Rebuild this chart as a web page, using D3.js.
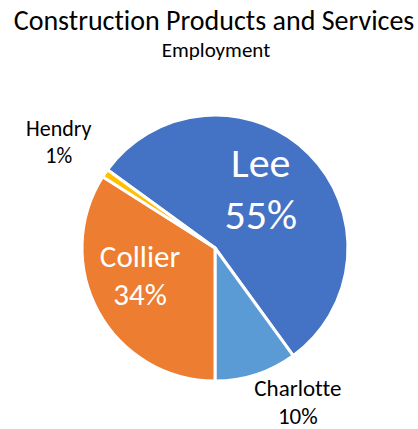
<!DOCTYPE html>
<html>
<head>
<meta charset="utf-8">
<script src="https://cdn.jsdelivr.net/npm/d3@7"></script>
<style>
  body { margin: 0; background: #fff; }
  text { font-family: Carlito, Lato, "Open Sans", sans-serif; font-variant-ligatures: none; }
</style>
</head>
<body>
<svg width="418" height="429"></svg>
<script>
// Data, in the order Excel draws the slices (clockwise)
var counties = ['Lee', 'Charlotte', 'Collier', 'Hendry'];
var shares = [55, 10, 34, 1];
var colors = ['#4472C4', '#5B9BD5', '#ED7D31', '#FFC000'];

var svg = d3.select('svg');

// Pie layout parameters
var cx = 215, cy = 248, radius = 133;

svg.append('text')
    .attr('x', 214)
    .attr('y', 30)
    .style('text-anchor', 'middle')
    .style('font-size', '28px')
    .style('fill', '#000')
    .text('Construction Products and Services');

svg.append('text')
    .attr('x', 216)
    .attr('y', 57)
    .style('text-anchor', 'middle')
    .style('font-size', '21px')
    .style('fill', '#000')
    .text('Employment');

var data = counties.map(function(c, i) {
    return {county: c, share: shares[i], color: colors[i]};
});

// Lee + Charlotte end at 6 o'clock, so the first slice starts this far back
var total = d3.sum(shares);
var startAngle = Math.PI - 2 * Math.PI * (shares[0] + shares[1]) / total;

var pie = d3.pie()
    .sort(null)
    .value(function(d) { return d.share; })
    .startAngle(startAngle)
    .endAngle(startAngle + 2 * Math.PI);

var arc = d3.arc().innerRadius(0).outerRadius(radius);

var pieG = svg.append('g')
    .attr('transform', 'translate(' + [cx, cy] + ')');

var arcs = pie(data);

pieG.selectAll('.slice')
    .data(arcs)
    .enter()
    .append('path')
    .attr('class', 'slice')
    .attr('d', arc)
    .style('fill', function(d) { return d.data.color; })
    .style('stroke', '#fff')
    .style('stroke-width', 3)
    .style('stroke-linejoin', 'round');

// Label placement: distance from centre (fraction of radius), nudge, font size, colour
var labelStyle = {
    'Lee':       {r: 0.55, dx: -6, dy: -8, size: 42, fill: '#fff'},
    'Charlotte': {r: 1.31, dx: 29, dy: -12, size: 23, fill: '#000'},
    'Collier':   {r: 0.6, dx: -5, dy: -11, size: 31, fill: '#fff'},
    'Hendry':    {r: 1.42, dx: 0, dy: 0, size: 22, fill: '#000'}
};

var labels = pieG.selectAll('.label')
    .data(arcs)
    .enter()
    .append('text')
    .attr('class', 'label')
    .style('text-anchor', 'middle')
    .style('font-size', function(d) { return labelStyle[d.data.county].size + 'px'; })
    .style('fill', function(d) { return labelStyle[d.data.county].fill; })
    .attr('transform', function(d) {
        var s = labelStyle[d.data.county];
        var a = (d.startAngle + d.endAngle) / 2;
        var x = Math.sin(a) * radius * s.r + s.dx;
        var y = -Math.cos(a) * radius * s.r + s.dy;
        return 'translate(' + [x, y] + ')';
    });

labels.each(function(d) {
    var s = labelStyle[d.data.county];
    var lh = s.size * 1.22;
    var lines = [d.data.county, d.data.share + '%'];
    var t = d3.select(this);
    lines.forEach(function(line, i) {
        t.append('tspan')
            .attr('x', 0)
            .attr('y', (i - 0.5) * lh)
            .attr('dy', '0.35em')
            .text(line);
    });
});
</script>
</body>
</html>
